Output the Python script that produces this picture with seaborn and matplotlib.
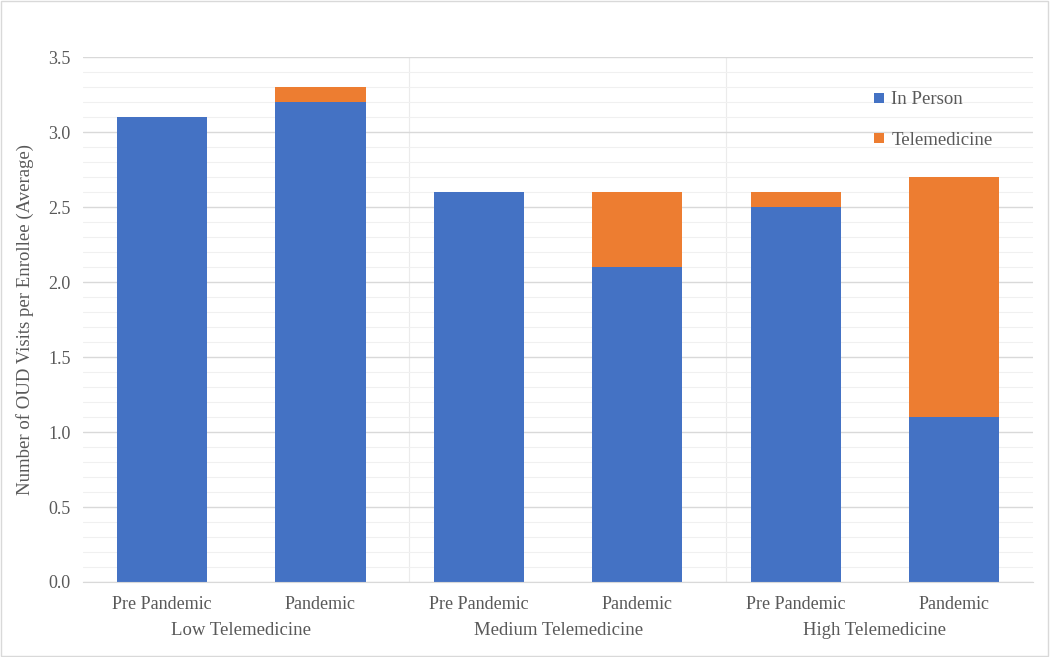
import numpy as np
import pandas as pd
import matplotlib
matplotlib.use('Agg')
import matplotlib.pyplot as plt
import seaborn as sns
from matplotlib.lines import Line2D
from matplotlib.patches import Rectangle

groups = ['Low Telemedicine', 'Medium Telemedicine', 'High Telemedicine']
periods = ['Pre Pandemic', 'Pandemic']
in_person = [3.1, 3.2, 2.6, 2.1, 2.5, 1.1]
telemedicine = [0.0, 0.1, 0.0, 0.5, 0.1, 1.6]

blue = '#4472C4'
orange = '#ED7D31'
grey_text = '#595959'

sns.set_style('white')
plt.rcParams['font.family'] = ['Liberation Serif', 'DejaVu Serif']

keys = [f'{g}|{p}' for g in groups for p in periods]
data = pd.DataFrame({'key': keys,
                     'in_person': in_person,
                     'telemedicine': telemedicine})
data['total'] = data['in_person'] + data['telemedicine']

fig = plt.figure(figsize=(10.5, 6.57), dpi=100)
ax = fig.add_axes([0.079, 0.1142, 0.905, 0.7986])

# stacked look: total in orange, then in-person drawn over it
sns.barplot(x='key', y='total', data=data, order=keys, color=orange,
            width=0.57, saturation=1, linewidth=0, ax=ax)
sns.barplot(x='key', y='in_person', data=data, order=keys, color=blue,
            width=0.57, saturation=1, linewidth=0, ax=ax)

ax.set_ylim(0, 3.5)
ax.set_xlim(-0.5, 5.5)
ax.set_yticks(np.arange(0, 3.51, 0.5))
ax.set_yticklabels([f'{v:.1f}' for v in np.arange(0, 3.51, 0.5)])
ax.set_yticks(np.arange(0, 3.51, 0.1), minor=True)
ax.grid(axis='y', which='major', color='#D9D9D9', linewidth=1)
ax.grid(axis='y', which='minor', color='#F0F0F0', linewidth=0.8)
ax.set_axisbelow(True)
for s in ['top', 'right', 'left']:
    ax.spines[s].set_visible(False)
ax.spines['bottom'].set_color('#D9D9D9')

# group separators
for xs in [1.56, 3.56]:
    ax.axvline(xs, color='#EBEBEB', linewidth=0.8, zorder=0)

ax.set_xticks(range(len(keys)))
ax.set_xticklabels([k.split('|')[1] for k in keys])
ax.tick_params(axis='x', length=0, pad=10, labelsize=13, labelcolor=grey_text)
ax.tick_params(axis='y', length=0, pad=9, labelsize=13, labelcolor=grey_text)
ax.tick_params(axis='y', which='minor', length=0)
ax.set_xlabel('')
ax.set_ylabel('Number of OUD Visits per Enrollee (Average)', fontsize=13.5,
              color=grey_text, labelpad=10)

for i, g in enumerate(groups):
    ax.text(2 * i + 0.5, -0.325, g, ha='center', va='center', fontsize=13.5,
            color=grey_text, transform=ax.transData, clip_on=False)

handles = [Line2D([], [], marker='s', linestyle='', markersize=7,
                  markerfacecolor=blue, markeredgewidth=0),
           Line2D([], [], marker='s', linestyle='', markersize=7,
                  markerfacecolor=orange, markeredgewidth=0)]
leg = fig.legend(handles, ['In Person', 'Telemedicine'], loc='upper left',
                 bbox_to_anchor=(0.815, 0.887), frameon=False, fontsize=13.5,
                 labelspacing=1.25, handlelength=0.7, handletextpad=0.3,
                 labelcolor=grey_text)

fig.patches.append(Rectangle((0.001, 0.001), 0.997, 0.997, transform=fig.transFigure,
                             fill=False, edgecolor='#D9D9D9', linewidth=1))

fig.savefig('out.png', dpi=100)
